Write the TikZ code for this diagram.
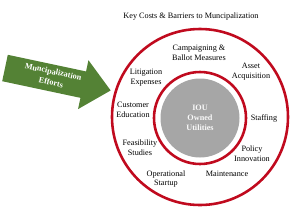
\documentclass[tikz,border=0pt]{standalone}
\usepackage{fontspec}
\setmainfont{Liberation Serif}
\usepackage{xcolor}
\usetikzlibrary{calc}

\definecolor{ringred}{RGB}{192,10,30}
\definecolor{effortgreen}{RGB}{84,130,53}
\definecolor{coregray}{RGB}{166,166,166}

\tikzset{
  ring/.style={draw=ringred, line width=2.2pt, circle, inner sep=0pt},
  cost/.style={align=center, font=\fontsize{7}{8.3}\selectfont, inner sep=0pt},
}

\begin{document}
\begin{tikzpicture}[x=0.03cm, y=-0.03cm]
\useasboundingbox (0,0) rectangle (300,210);

% rings and core
\node[ring, minimum size=176*0.03cm] (outer) at (200,117) {};
\node[ring, minimum size=92*0.03cm] (inner) at (200,118) {};
\node[circle, fill=coregray, minimum size=79*0.03cm, inner sep=0pt,
  align=center, text=white!95!gray, font=\fontsize{7}{8.6}\selectfont\bfseries] (core) at (200,118) {IOU\\Owned\\Utilities};

% title
\node[cost] (title) at (191,17) {Key Costs \& Barriers to Muncipalization};

% cost labels
\node[cost] (campaign) at (199,53) {Campaigning \&\\Ballot Measures};
\node[cost] (asset) at (251,72) {Asset\\Acquisition};
\node[cost] (litig) at (146,78) {Litigation\\Expenses};
\node[cost] (educ) at (133,110) {Customer\\Education};
\node[cost] (staff) at (264,118) {Staffing};
\node[cost] (feas) at (140,148) {Feasibility\\Studies};
\node[cost] (policy) at (252,154) {Policy\\Innovation};
\node[cost] (startup) at (166,179) {Operational\\Startup};
\node[cost] (maint) at (227,174) {Maintenance};

% efforts arrow
\begin{scope}[shift={(5,68)}, rotate=-12]
\fill[effortgreen] (0,-13.5) -- (80,-13.5) -- (80,-25) -- (108,0) -- (80,25) -- (80,13.5) -- (0,13.5) -- cycle;
\coordinate (effortmid) at (48,-1);
\end{scope}
\node[cost, rotate=-12, text=white, font=\fontsize{7}{9.4}\selectfont\bfseries] (efforts) at (effortmid) {Muncipalization\\Efforts};
\end{tikzpicture}
\end{document}
